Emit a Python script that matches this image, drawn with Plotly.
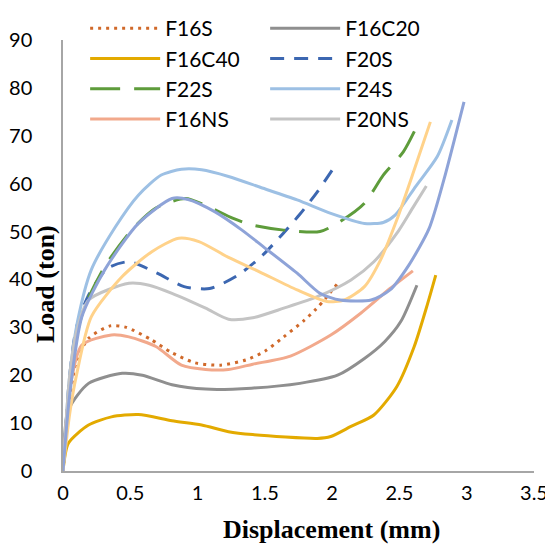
import plotly.graph_objects as go

# ---- data ----
f16s_x = [0, 0.05, 0.1, 0.19, 0.35, 0.47, 0.65, 0.81, 0.98, 1.17, 1.36, 1.5, 1.64, 1.79, 1.88, 1.95, 2.05]
f16s_y = [0, 15, 23, 27.7, 30.3, 30, 27.5, 24.7, 22.6, 22.1, 23.2, 25, 28, 31.4, 33.8, 36, 39.5]

f16c20_x = [0, 0.04, 0.19, 0.44, 0.59, 0.81, 1.06, 1.4, 1.76, 2.04, 2.24, 2.39, 2.51, 2.63]
f16c20_y = [0, 12.7, 18.3, 20.4, 20, 18, 17.1, 17.3, 18.3, 20, 23.5, 27, 31.2, 38.8]

f16c40_x = [0, 0.04, 0.19, 0.36, 0.56, 0.81, 1.03, 1.23, 1.41, 1.89, 1.99, 2.14, 2.31, 2.48, 2.61, 2.71, 2.77]
f16c40_y = [0, 5.8, 9.6, 11.3, 11.8, 10.5, 9.6, 8.2, 7.6, 6.8, 7.2, 9.3, 11.7, 17.6, 26, 35, 40.9]

f20s_x = [0, 0.05, 0.1, 0.19, 0.33, 0.49, 0.7, 0.9, 1.09, 1.29, 1.47, 1.61, 1.76, 1.89, 2.04]
f20s_y = [0, 20, 30, 36.7, 42.3, 43.7, 41.3, 38.5, 38.1, 40.7, 44.7, 48.8, 53.6, 58.3, 64.5]

f22s_x = [0, 0.05, 0.1, 0.16, 0.31, 0.51, 0.69, 0.91, 1.08, 1.26, 1.4, 1.64, 1.91, 2.06, 2.24, 2.38, 2.53, 2.63]
f22s_y = [0, 18, 28, 34.3, 42.7, 50.3, 54.9, 56.9, 55.2, 52.8, 51.4, 50.3, 50, 52.1, 55.9, 61.8, 66.7, 72]

f24s_x = [0, 0.05, 0.11, 0.21, 0.39, 0.56, 0.73, 0.88, 1.03, 1.23, 1.47, 1.74, 1.99, 2.24, 2.38, 2.47, 2.62, 2.78, 2.89]
f24s_y = [0, 20, 31.5, 42, 51, 57.6, 61.8, 63, 62.9, 61.5, 59.2, 56.6, 53.8, 51.7, 51.9, 53.5, 59.4, 65.6, 73.3]

f16ns_x = [0, 0.05, 0.14, 0.36, 0.49, 0.69, 0.88, 1.06, 1.23, 1.41, 1.69, 1.99, 2.21, 2.43, 2.6]
f16ns_y = [0, 17, 26.3, 28.4, 28, 26, 22.1, 21.2, 21.2, 22.3, 24, 28.4, 32.9, 38.1, 41.8]

f20ns_x = [0, 0.05, 0.1, 0.19, 0.49, 0.64, 0.81, 1.06, 1.23, 1.41, 1.64, 1.89, 2.14, 2.31, 2.48, 2.6, 2.7]
f20ns_y = [0, 20, 29, 35.7, 39.2, 38.8, 37.1, 34, 31.7, 32, 34, 36.4, 39.9, 43.7, 49.6, 55, 59.5]

# two curves drawn without a legend entry
extra_a_x = [0, 0.05, 0.1, 0.21, 0.44, 0.66, 0.86, 1.01, 1.23, 1.46, 1.74, 1.96, 2.09, 2.24, 2.36, 2.48, 2.61, 2.73]
extra_a_y = [0, 12, 20, 32.2, 40.6, 45.8, 48.6, 47.9, 44.6, 41.6, 37.8, 35.4, 35.7, 38.5, 44.1, 52.4, 62.9, 72.9]

extra_b_x = [0, 0.05, 0.14, 0.31, 0.56, 0.81, 0.93, 1.13, 1.33, 1.49, 1.74, 1.91, 2.06, 2.29, 2.43, 2.57, 2.72, 2.83, 2.98]
extra_b_y = [0, 16, 32.2, 42, 51.7, 56.9, 56.7, 54.1, 50.3, 46.8, 41.3, 37.1, 35.7, 35.7, 37.8, 43, 50.6, 60.8, 77.1]

x_ticks = [0, 0.5, 1, 1.5, 2, 2.5, 3, 3.5]
y_ticks = [0, 10, 20, 30, 40, 50, 60, 70, 80, 90]

series = [
    ("F16S", f16s_x, f16s_y, "#D0692A", "3px,5px", True),
    ("F16C20", f16c20_x, f16c20_y, "#8F8F8F", "solid", True),
    ("F16C40", f16c40_x, f16c40_y, "#E3AA00", "solid", True),
    ("F20S", f20s_x, f20s_y, "#3C67B1", "14px,10px", True),
    ("F22S", f22s_x, f22s_y, "#5E9C3B", "30px,14px", True),
    ("F24S", f24s_x, f24s_y, "#9DC0E4", "solid", True),
    ("F16NS", f16ns_x, f16ns_y, "#F2A98C", "solid", True),
    ("F20NS", f20ns_x, f20ns_y, "#C4C4C4", "solid", True),
    ("extra_a", extra_a_x, extra_a_y, "#FFD28A", "solid", False),
    ("extra_b", extra_b_x, extra_b_y, "#8EA3D8", "solid", False),
]

fig = go.Figure()
for name, xs, ys, color, dash, show in series:
    fig.add_trace(go.Scatter(
        x=xs, y=ys, mode="lines", name=name, showlegend=show,
        line=dict(color=color, width=3, dash=dash, shape="spline", smoothing=0.7),
    ))

serif = "'Liberation Serif', 'Times New Roman', serif"
# page body has an 8px margin, so the figure is made 8px smaller on each axis
W, H = 545, 541
L, R, T, B = 55, 19, 0, 78
plot_h = H - T - B
fig.update_layout(
    width=W, height=H,
    margin=dict(l=L, r=R, t=T, b=B),
    paper_bgcolor="white", plot_bgcolor="white",
    font=dict(family="Lato, 'Noto Sans', sans-serif", size=20, color="black"),
    legend=dict(
        orientation="h", x=0.047, xanchor="left", y=1.0, yanchor="top",
        entrywidth=95, entrywidthmode="pixels", itemwidth=70,
        bgcolor="rgba(255,255,255,0)", font=dict(size=21),
        traceorder="normal",
    ),
    xaxis=dict(
        range=[0, 3.5], tickvals=x_ticks, ticktext=[f"{v:g}" for v in x_ticks],
        showgrid=False, zeroline=False, showline=True, linecolor="#A6A6A6", linewidth=1.5,
        ticks="", ticklen=0, automargin=False, ticklabelstandoff=3,
        tickfont=dict(size=20),
    ),
    yaxis=dict(
        range=[0, 90], tickvals=y_ticks, ticktext=[str(v) for v in y_ticks],
        domain=[0, (plot_h - 32) / plot_h],
        showgrid=False, zeroline=False, showline=True, linecolor="#A6A6A6", linewidth=1.5,
        ticks="", ticklen=0, automargin=False, ticklabelstandoff=25,
        tickfont=dict(size=20),
    ),
    annotations=[
        dict(text="<b>Load (ton)</b>", textangle=-90, xref="paper", yref="paper",
             x=-0.036, y=0.404, xanchor="center", yanchor="middle", showarrow=False,
             font=dict(family=serif, size=26)),
        dict(text="<b>Displacement (mm)</b>", xref="paper", yref="paper",
             x=0.57, y=-0.127, xanchor="center", yanchor="middle", showarrow=False,
             font=dict(family=serif, size=26)),
    ],
)

fig.write_html("out.html")
